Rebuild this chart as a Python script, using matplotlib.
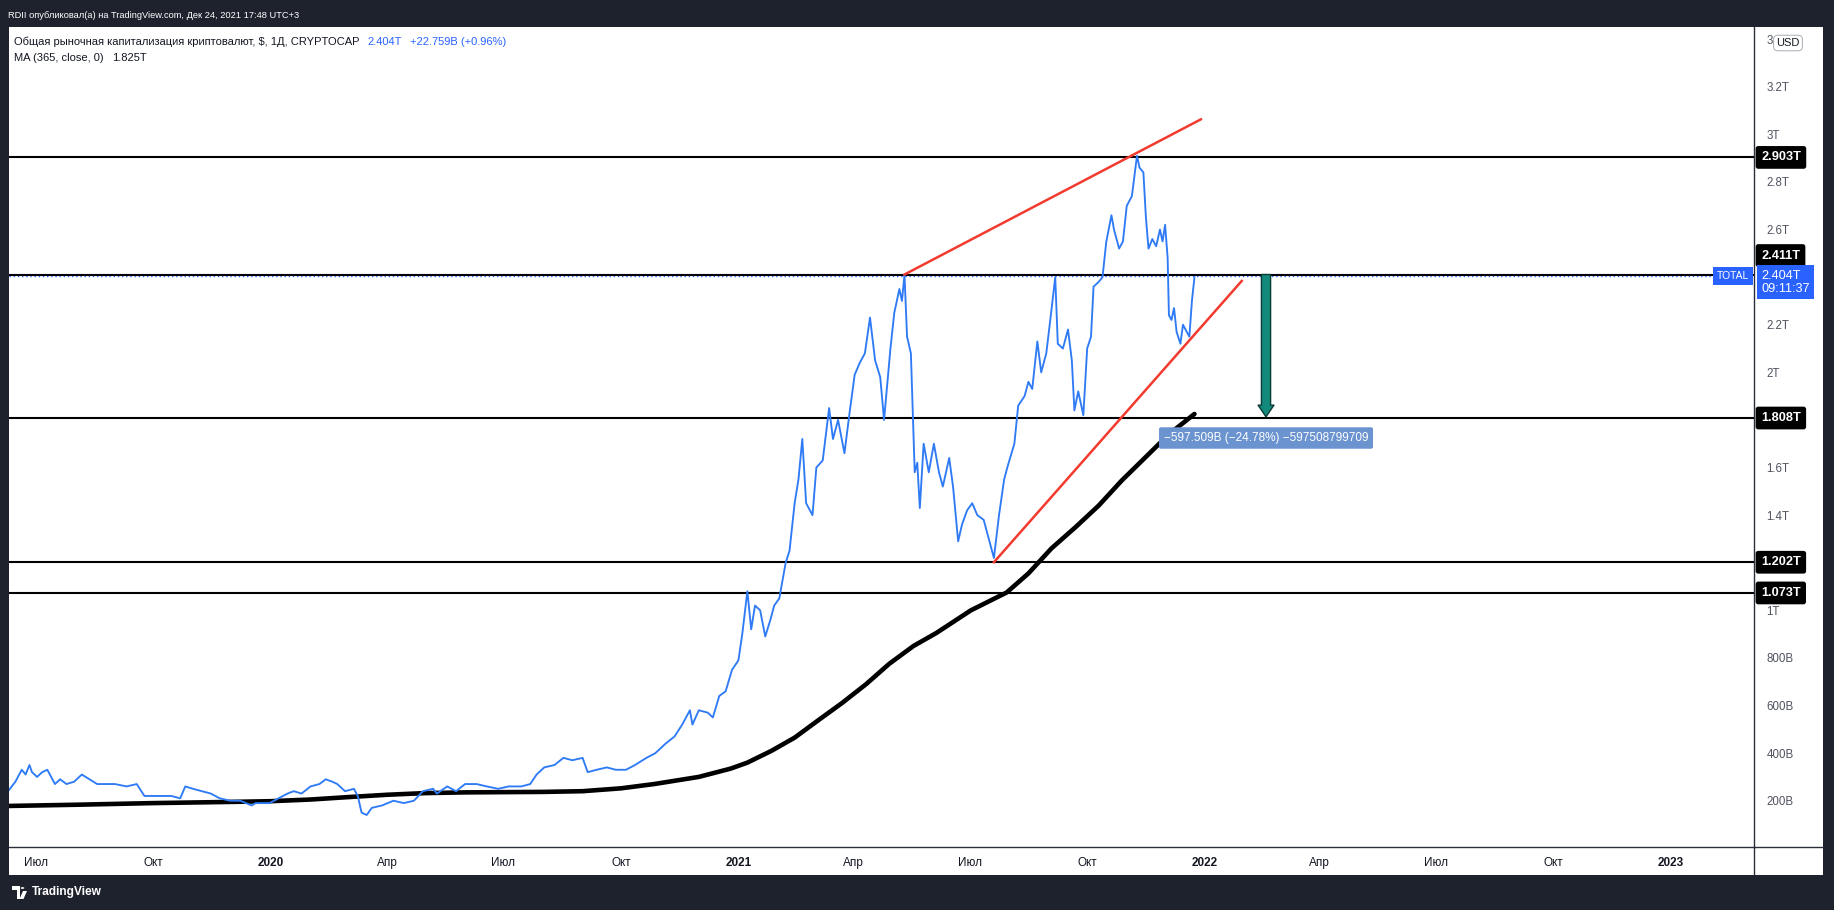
import matplotlib
matplotlib.use("Agg")
import matplotlib.pyplot as plt
import matplotlib.transforms as mtransforms
from matplotlib.patches import Rectangle, Circle, Polygon
from matplotlib.lines import Line2D
from matplotlib import font_manager as fm
import pandas as pd

_names = {f.name for f in fm.fontManager.ttflist}
HAS_NARROW = 'Liberation Sans Narrow' in _names
plt.rcParams['font.family'] = ['Liberation Sans', 'DejaVu Sans']
HEAD_FAMILY = ['Liberation Sans Narrow', 'Liberation Sans', 'DejaVu Sans'] if HAS_NARROW else ['Liberation Sans', 'DejaVu Sans']
PUB_SIZE = 8.0 if HAS_NARROW else 6.7
TITLE_SIZE = 9.6 if HAS_NARROW else 8.0

# ---------------- data ----------------
total_dates = [
    '2019-06-10', '2019-06-15', '2019-06-20', '2019-06-23', '2019-06-26', '2019-06-28', '2019-07-02',
    '2019-07-06', '2019-07-10', '2019-07-16', '2019-07-20', '2019-07-25', '2019-07-31', '2019-08-06',
    '2019-08-12', '2019-08-18', '2019-08-25', '2019-09-01', '2019-09-10', '2019-09-18', '2019-09-24',
    '2019-09-30', '2019-10-08', '2019-10-15', '2019-10-22', '2019-10-26', '2019-11-01', '2019-11-08',
    '2019-11-15', '2019-11-22', '2019-11-30', '2019-12-08', '2019-12-17', '2019-12-20', '2019-12-31',
    '2020-01-07', '2020-01-14', '2020-01-19', '2020-01-25', '2020-02-01', '2020-02-08', '2020-02-13',
    '2020-02-18', '2020-02-22', '2020-02-28', '2020-03-06', '2020-03-09', '2020-03-12', '2020-03-16',
    '2020-03-20', '2020-03-28', '2020-04-06', '2020-04-14', '2020-04-22', '2020-04-29', '2020-05-07',
    '2020-05-10', '2020-05-18', '2020-05-25', '2020-06-01', '2020-06-10', '2020-06-18', '2020-06-27',
    '2020-07-05', '2020-07-15', '2020-07-22', '2020-07-27', '2020-08-02', '2020-08-10', '2020-08-17',
    '2020-08-24', '2020-09-01', '2020-09-05', '2020-09-12', '2020-09-20', '2020-09-27', '2020-10-05',
    '2020-10-12', '2020-10-21', '2020-10-28', '2020-11-05', '2020-11-12', '2020-11-18', '2020-11-24',
    '2020-11-26', '2020-12-01', '2020-12-08', '2020-12-12', '2020-12-17', '2020-12-22', '2020-12-27',
    '2021-01-01', '2021-01-04', '2021-01-08', '2021-01-11', '2021-01-14', '2021-01-18', '2021-01-22',
    '2021-01-26', '2021-01-29', '2021-02-02', '2021-02-07', '2021-02-10', '2021-02-14', '2021-02-17',
    '2021-02-20', '2021-02-23', '2021-02-28', '2021-03-03', '2021-03-08', '2021-03-13', '2021-03-16',
    '2021-03-20', '2021-03-25', '2021-03-29', '2021-04-02', '2021-04-06', '2021-04-10', '2021-04-14',
    '2021-04-18', '2021-04-22', '2021-04-25', '2021-04-30', '2021-05-03', '2021-05-07', '2021-05-09',
    '2021-05-11', '2021-05-13', '2021-05-16', '2021-05-19', '2021-05-21', '2021-05-23', '2021-05-26',
    '2021-05-30', '2021-06-03', '2021-06-07', '2021-06-10', '2021-06-15', '2021-06-18', '2021-06-22',
    '2021-06-25', '2021-06-29', '2021-07-03', '2021-07-07', '2021-07-12', '2021-07-16', '2021-07-20',
    '2021-07-24', '2021-07-28', '2021-07-31', '2021-08-05', '2021-08-08', '2021-08-13', '2021-08-16',
    '2021-08-19', '2021-08-23', '2021-08-26', '2021-08-30', '2021-09-03', '2021-09-06', '2021-09-08',
    '2021-09-12', '2021-09-16', '2021-09-19', '2021-09-21', '2021-09-24', '2021-09-28', '2021-10-01',
    '2021-10-04', '2021-10-06', '2021-10-10', '2021-10-13', '2021-10-16', '2021-10-20', '2021-10-22',
    '2021-10-26', '2021-10-29', '2021-11-01', '2021-11-05', '2021-11-09', '2021-11-11', '2021-11-14',
    '2021-11-16', '2021-11-18', '2021-11-21', '2021-11-24', '2021-11-27', '2021-11-29', '2021-12-01',
    '2021-12-03', '2021-12-04', '2021-12-06', '2021-12-08', '2021-12-10', '2021-12-13', '2021-12-15',
    '2021-12-18', '2021-12-20', '2021-12-22', '2021-12-24']
total_values = [
    0.245, 0.28, 0.33, 0.31, 0.35, 0.32, 0.30,
    0.32, 0.33, 0.27, 0.29, 0.27, 0.28, 0.31,
    0.29, 0.27, 0.27, 0.27, 0.26, 0.27, 0.22,
    0.22, 0.22, 0.22, 0.21, 0.26, 0.25, 0.24,
    0.23, 0.21, 0.20, 0.20, 0.18, 0.19, 0.19,
    0.21, 0.23, 0.24, 0.23, 0.26, 0.27, 0.29,
    0.28, 0.27, 0.24, 0.25, 0.22, 0.15, 0.14,
    0.17, 0.18, 0.20, 0.19, 0.20, 0.24, 0.25,
    0.23, 0.26, 0.24, 0.27, 0.27, 0.26, 0.25,
    0.26, 0.26, 0.27, 0.31, 0.34, 0.35, 0.38,
    0.37, 0.38, 0.32, 0.33, 0.34, 0.33, 0.33,
    0.35, 0.38, 0.40, 0.44, 0.47, 0.52, 0.58,
    0.52, 0.58, 0.57, 0.55, 0.64, 0.66, 0.75,
    0.79, 0.90, 1.08, 0.92, 1.02, 1.00, 0.89,
    0.96, 1.02, 1.05, 1.20, 1.25, 1.45, 1.55,
    1.72, 1.45, 1.40, 1.60, 1.63, 1.85, 1.72,
    1.80, 1.66, 1.83, 1.99, 2.04, 2.08, 2.23,
    2.05, 1.98, 1.80, 2.10, 2.25, 2.35, 2.30,
    2.41, 2.15, 2.08, 1.58, 1.62, 1.43, 1.70,
    1.58, 1.70, 1.58, 1.52, 1.64, 1.52, 1.29,
    1.36, 1.42, 1.45, 1.40, 1.38, 1.30, 1.22,
    1.40, 1.55, 1.61, 1.70, 1.86, 1.90, 1.96,
    1.93, 2.13, 2.00, 2.08, 2.26, 2.40, 2.12,
    2.10, 2.18, 2.05, 1.84, 1.92, 1.82, 2.10,
    2.15, 2.36, 2.38, 2.40, 2.55, 2.66, 2.60,
    2.52, 2.55, 2.70, 2.74, 2.91, 2.86, 2.84,
    2.65, 2.52, 2.56, 2.53, 2.60, 2.55, 2.62,
    2.48, 2.24, 2.22, 2.27, 2.17, 2.12, 2.20,
    2.17, 2.15, 2.30, 2.40]

ma_dates = [
    '2019-06-10', '2019-08-01', '2019-10-01', '2019-12-01', '2020-01-01', '2020-02-01', '2020-03-01',
    '2020-04-01', '2020-05-01', '2020-06-01', '2020-07-01', '2020-08-01', '2020-09-01', '2020-10-01',
    '2020-10-27', '2020-12-01', '2020-12-26', '2021-01-08', '2021-01-27', '2021-02-14', '2021-03-05',
    '2021-03-23', '2021-04-11', '2021-04-29', '2021-05-18', '2021-06-05', '2021-07-02', '2021-07-30',
    '2021-08-16', '2021-09-03', '2021-09-22', '2021-10-10', '2021-10-28', '2021-11-16', '2021-12-04',
    '2021-12-24']
ma_values = [
    0.178, 0.183, 0.190, 0.195, 0.198, 0.205, 0.215,
    0.225, 0.232, 0.235, 0.236, 0.237, 0.240, 0.252,
    0.270, 0.300, 0.335, 0.360, 0.410, 0.465, 0.540,
    0.610, 0.690, 0.775, 0.850, 0.905, 1.000, 1.075,
    1.155, 1.260, 1.350, 1.440, 1.545, 1.645, 1.740,
    1.825]

level_values = [2.903, 2.411, 1.808, 1.202, 1.073]
level_labels = ['2.903T', '2.411T', '1.808T', '1.202T', '1.073T']
last_value = 2.404
last_label = '2.404T\n09:11:37'
upper_trend_dates = ['2021-05-11', '2021-12-29']
upper_trend_values = [2.411, 3.063]
lower_trend_dates = ['2021-07-20', '2022-01-30']
lower_trend_values = [1.202, 2.384]
measure_date = '2022-02-18'
measure_from = 2.411
measure_to = 1.813
measure_label_value = 1.724
measure_text = '\u2212597.509B (\u221224.78%) \u2212597508799709'
ytick_values = [0.2, 0.4, 0.6, 0.8, 1.0, 1.4, 1.6, 2.0, 2.2, 2.6, 2.8, 3.0, 3.2, 3.4]
ytick_labels = ['200B', '400B', '600B', '800B', '1T', '1.4T', '1.6T', '2T', '2.2T', '2.6T',
                '2.8T', '3T', '3.2T', '3.4T']
xtick_dates = ['2019-07-01', '2019-10-01', '2020-01-01', '2020-04-01', '2020-07-01', '2020-10-01',
               '2021-01-01', '2021-04-01', '2021-07-01', '2021-10-01', '2022-01-01', '2022-04-01',
               '2022-07-01', '2022-10-01', '2023-01-01']
xtick_labels = ['Июл', 'Окт', '2020', 'Апр', 'Июл', 'Окт', '2021', 'Апр', 'Июл', 'Окт', '2022',
                'Апр', 'Июл', 'Окт', '2023']
publish_text = 'RDII опубликовал(а) на TradingView.com, Дек 24, 2021 17:48 UTC+3'
title_text = 'Общая рыночная капитализация криптовалют, $, 1Д, CRYPTOCAP'
title_price = '2.404T'
title_change = '+22.759B (+0.96%)'
ma_title = 'MA (365, close, 0)'
ma_last = '1.825T'

# ---------------- figure ----------------
W, H = 1834, 910
DARK = '#1e222d'
BLUE = '#2962ff'
LINE_BLUE = '#2f7bf5'
TXT = '#131722'
fig = plt.figure(figsize=(W / 100, H / 100), dpi=100, facecolor=DARK)


def fx(px):
    return px / W


def fy(py):
    return 1 - py / H


fig.add_artist(Rectangle((fx(9), fy(875)), fx(1823) - fx(9), fy(27) - fy(875),
                         transform=fig.transFigure, fc='white', ec='none', zorder=-5))

ax = fig.add_axes([fx(9), fy(847), fx(1754) - fx(9), fy(27) - fy(847)])
ax.set_facecolor('white')
for s in ['top', 'left']:
    ax.spines[s].set_visible(False)
for s in ['right', 'bottom']:
    ax.spines[s].set_color('#2a2e39')
    ax.spines[s].set_linewidth(1.0)

fig.add_artist(Line2D([fx(1754), fx(1823)], [fy(847), fy(847)], transform=fig.transFigure,
                      color='#2a2e39', lw=1.0))
fig.add_artist(Line2D([fx(1754), fx(1754)], [fy(847), fy(875)], transform=fig.transFigure,
                      color='#2a2e39', lw=1.0))

# series
ax.plot(pd.to_datetime(ma_dates), ma_values, color='black', lw=3.3, zorder=3,
        solid_capstyle='round', solid_joinstyle='round')
ax.plot(pd.to_datetime(total_dates), total_values, color=LINE_BLUE, lw=1.35, zorder=4)
for v in level_values:
    ax.axhline(v, color='black', lw=1.5, zorder=2)
ax.axhline(last_value, color=BLUE, lw=1.0, ls=(0, (1, 2)), zorder=1.5)
ax.plot(pd.to_datetime(upper_trend_dates), upper_trend_values, color='#f23a2f', lw=1.8, zorder=5)
ax.plot(pd.to_datetime(lower_trend_dates), lower_trend_values, color='#f23a2f', lw=1.8, zorder=5)

md = pd.Timestamp(measure_date)
ax.annotate('', xy=(md, measure_to), xytext=(md, measure_from),
            arrowprops=dict(arrowstyle='simple,head_length=0.7,head_width=0.95,tail_width=0.55',
                            fc='#12897b', ec='#0b3b36', lw=1.0, mutation_scale=12,
                            shrinkA=0, shrinkB=0), zorder=6)
ax.text(md, measure_label_value, measure_text, ha='center', va='center', color='white',
        fontsize=8.5, zorder=7,
        bbox=dict(boxstyle='round,pad=0.4,rounding_size=0.15', fc='#6a93d0', ec='none'))

# scales
ax.set_xlim(pd.Timestamp('2019-06-10'), pd.Timestamp('2023-03-07'))
ax.set_ylim(0.0055, 3.451)
ax.set_xticks(pd.to_datetime(xtick_dates))
ax.set_xticklabels(xtick_labels)
ax.tick_params(axis='x', length=0, pad=7, labelsize=8.5, labelcolor=TXT)
for lbl in ax.get_xticklabels():
    if lbl.get_text().isdigit():
        lbl.set_fontweight('bold')
ax.yaxis.tick_right()
ax.set_yticks(ytick_values)
ax.set_yticklabels(ytick_labels)
ax.tick_params(axis='y', length=0, pad=9, labelsize=8.3, labelcolor='#50535e')

# price labels on the right axis (2.411T label is pushed up by the last-price label)
bt = mtransforms.blended_transform_factory(ax.transAxes, ax.transData)
axw = 1754 - 9
for v, s in zip(level_values, level_labels):
    shift = 19 if s == '2.411T' else 0
    tr = bt + mtransforms.ScaledTranslation(0, shift / 100, fig.dpi_scale_trans)
    ax.text(1 + 7 / axw, v, s, transform=tr, ha='left', va='center', color='white',
            fontsize=9.2, fontweight='bold', clip_on=False, zorder=10,
            bbox=dict(boxstyle='round,pad=0.42,rounding_size=0.2', fc='black', ec='none'))
ax.text(1 + 7 / axw, last_value, last_label,
        transform=bt + mtransforms.ScaledTranslation(0, -6 / 100, fig.dpi_scale_trans),
        ha='left', va='center', color='white', fontsize=9.2, linespacing=1.15, clip_on=False,
        zorder=11, bbox=dict(boxstyle='square,pad=0.35', fc=BLUE, ec='none'))
ax.text(1 - 5 / axw, last_value, 'TOTAL', transform=bt, ha='right', va='center', color='white',
        fontsize=7.4, clip_on=False, zorder=11,
        bbox=dict(boxstyle='square,pad=0.4', fc=BLUE, ec='none'))
fig.text(fx(1788), fy(43), 'USD', ha='center', va='center', fontsize=8, color=TXT, zorder=20,
         bbox=dict(boxstyle='round,pad=0.25,rounding_size=0.4', fc='white', ec='#b2b5be', lw=0.8))

# header texts
renderer = fig.canvas.get_renderer()


def chain(x_px, y_px, parts, **kw):
    x = x_px
    for s, c, gap in parts:
        t = fig.text(fx(x), fy(y_px), s, color=c, ha='left', va='center', **kw)
        x += t.get_window_extent(renderer=renderer).width + gap


chain(8, 15, [(publish_text, 'white', 0)], family=HEAD_FAMILY, fontsize=PUB_SIZE)
chain(14, 42, [(title_text, TXT, 8), (title_price, BLUE, 8), (title_change, BLUE, 0)],
      family=HEAD_FAMILY, fontsize=TITLE_SIZE)
chain(14, 58, [(ma_title, TXT, 8), (ma_last, TXT, 0)], family=HEAD_FAMILY, fontsize=TITLE_SIZE)

# TradingView logo at the bottom
fig.add_artist(Polygon([(fx(12), fy(886)), (fx(20), fy(886)), (fx(20), fy(899)), (fx(16.5), fy(899)),
                        (fx(16.5), fy(889.5)), (fx(12), fy(889.5))], closed=True,
                       transform=fig.transFigure, fc='white', ec='none'))
fig.add_artist(Circle((fx(22.5), fy(888)), 1.8 / W, transform=fig.transFigure, fc='white', ec='none'))
fig.add_artist(Polygon([(fx(23), fy(891)), (fx(27), fy(891)), (fx(23.5), fy(899)), (fx(19.5), fy(899))],
                       closed=True, transform=fig.transFigure, fc='white', ec='none'))
fig.text(fx(32), fy(892), 'TradingView', color='white', fontsize=8.6, fontweight='bold',
         ha='left', va='center')

fig.savefig('out.png', dpi=100, facecolor=DARK)
